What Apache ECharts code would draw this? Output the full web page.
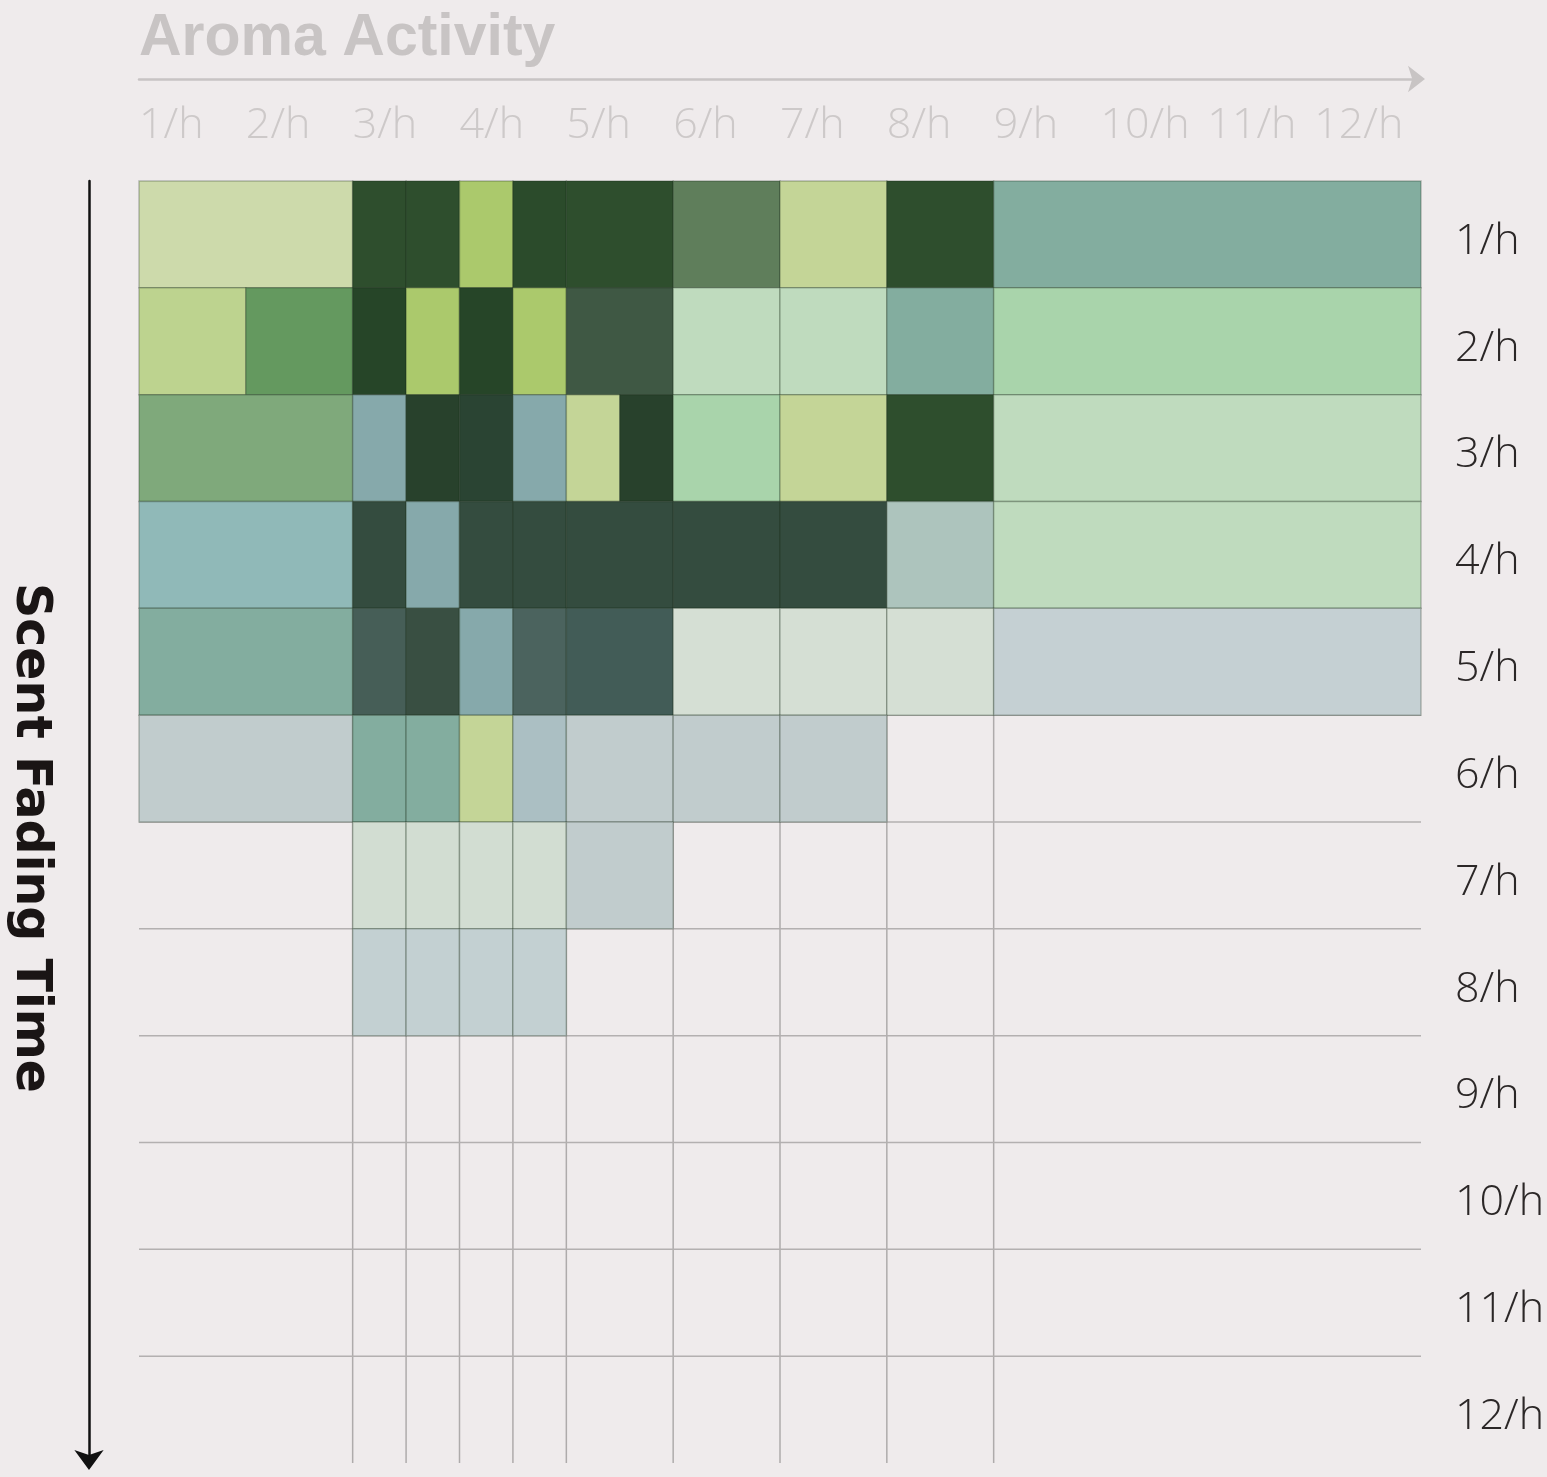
<!DOCTYPE html>
<html>
<head>
<meta charset="utf-8">
<title>Aroma Activity</title>
<script src="https://cdn.jsdelivr.net/npm/echarts@6.0.0/dist/echarts.min.js"></script>
<style>
  html, body { margin: 0; padding: 0; background: #efebec; }
  #chart_container { width: 1547px; height: 1477px; }
</style>
</head>
<body>
<div id="chart_container"></div>
<script>

// tick labels
const activityLabels = ['1/h', '2/h', '3/h', '4/h', '5/h', '6/h', '7/h', '8/h', '9/h', '10/h', '11/h', '12/h'];
const fadingLabels = ['1/h', '2/h', '3/h', '4/h', '5/h', '6/h', '7/h', '8/h', '9/h', '10/h', '11/h', '12/h'];

// shade levels used by the cells (index -> colour)
const shades = [
  '#cddaab', '#2e4e2d', '#abc96c', '#5f7e5b', '#c4d597', '#83ad9f', '#bdd38f', '#64995f',
  '#264528', '#3f5844', '#bfdbbe', '#a9d4ab', '#7fa97b', '#86a9ab', '#2a4433', '#90b9b8',
  '#344c3f', '#adc4bd', '#465e57', '#4b635e', '#425c57', '#d5dfd4', '#c5d0d3', '#c1cccd',
  '#abbfc3', '#d2ddd2', '#c3d0d2', '#2b4b2b', '#28412c', '#394f42'
];

// each row: [activity from, activity to, shade]
const fading1 = [[0, 2, 0], [2, 2.5, 1], [2.5, 3, 1], [3, 3.5, 2], [3.5, 4, 27], [4, 5, 1], [5, 6, 3], [6, 7, 4], [7, 8, 1], [8, 12, 5]];
const fading2 = [[0, 1, 6], [1, 2, 7], [2, 2.5, 8], [2.5, 3, 2], [3, 3.5, 8], [3.5, 4, 2], [4, 5, 9], [5, 6, 10], [6, 7, 10], [7, 8, 5], [8, 12, 11]];
const fading3 = [[0, 2, 12], [2, 2.5, 13], [2.5, 3, 28], [3, 3.5, 14], [3.5, 4, 13], [4, 4.5, 4], [4.5, 5, 28], [5, 6, 11], [6, 7, 4], [7, 8, 1], [8, 12, 10]];
const fading4 = [[0, 2, 15], [2, 2.5, 16], [2.5, 3, 13], [3, 3.5, 16], [3.5, 4, 16], [4, 5, 16], [5, 6, 16], [6, 7, 16], [7, 8, 17], [8, 12, 10]];
const fading5 = [[0, 2, 5], [2, 2.5, 18], [2.5, 3, 29], [3, 3.5, 13], [3.5, 4, 19], [4, 5, 20], [5, 6, 21], [6, 7, 21], [7, 8, 21], [8, 12, 22]];
const fading6 = [[0, 2, 23], [2, 2.5, 5], [2.5, 3, 5], [3, 3.5, 4], [3.5, 4, 24], [4, 5, 23], [5, 6, 23], [6, 7, 23]];
const fading7 = [[2, 2.5, 25], [2.5, 3, 25], [3, 3.5, 25], [3.5, 4, 25], [4, 5, 23]];
const fading8 = [[2, 2.5, 26], [2.5, 3, 26], [3, 3.5, 26], [3.5, 4, 26]];

// guide lines of the empty grid
const splitActivity = [2, 2.5, 3, 3.5, 4, 5, 6, 7, 8];
const splitFading = [1, 2, 3, 4, 5, 6, 7, 8, 9, 10, 11];

window.addEventListener("load", (event) => {
  drawChart();
});

function drawChart() {

  let rows = [fading1, fading2, fading3, fading4, fading5, fading6, fading7, fading8];
  let cells = [];
  rows.forEach((row, i) => {
    row.forEach((c) => cells.push([c[0], c[1], i, c[2]]));
  });

  let chart = echarts.init(document.getElementById("chart_container"), null, {
    renderer: 'canvas'
  });

  const labelFont = "'Open Sans', 'Noto Sans', sans-serif";

  let option = {
    backgroundColor: '#efebec',
    animation: false,
    title: {
      text: 'Aroma Activity',
      left: 139,
      top: 9,
      padding: 0,
      textStyle: {
        fontFamily: "'Liberation Sans', Arial, sans-serif",
        fontSize: 59,
        fontWeight: 'bold',
        color: '#c8c4c4'
      }
    },
    grid: {
      left: 139,
      right: 126,
      top: 181,
      bottom: 14,
      outerBoundsMode: 'none'
    },
    xAxis: [
      {
        // arrow line
        type: 'value',
        position: 'top',
        min: 0,
        max: 12,
        offset: 102,
        axisLine: {
          show: true,
          onZero: false,
          symbol: ['none', 'arrow'],
          symbolSize: [20, 17],
          symbolOffset: [0, 4],
          lineStyle: { color: '#c8c4c4', width: 2.5 }
        },
        axisTick: { show: false },
        axisLabel: { show: false },
        splitLine: { show: false }
      },
      {
        type: 'value',
        position: 'top',
        min: 0,
        max: 12,
        interval: 1,
        axisLine: { show: false, onZero: false },
        axisTick: { show: false },
        splitLine: { show: false },
        axisLabel: {
          align: 'left',
          margin: 34,
          fontFamily: labelFont,
          fontWeight: 300,
          fontSize: 43,
          color: '#cdc9c9',
          formatter: (v) => activityLabels[v] || ''
        }
      }
    ],
    yAxis: [
      {
        type: 'value',
        inverse: true,
        min: 0,
        max: 12,
        position: 'left',
        offset: 50,
        name: 'Scent Fading Time',
        nameLocation: 'middle',
        nameRotate: -90,
        nameGap: 35,
        nameTextStyle: {
          fontFamily: "'DejaVu Sans', sans-serif",
          fontSize: 49,
          fontWeight: 'bold',
          color: '#1a1515',
          padding: [0, 0, 0, 32]
        },
        axisLine: {
          show: true,
          onZero: false,
          symbol: ['arrow', 'none'],
          symbolSize: [22, 20],
          symbolOffset: [-7, 0],
          lineStyle: { color: '#111111', width: 2.5 }
        },
        axisTick: { show: false },
        axisLabel: { show: false },
        splitLine: { show: false }
      },
      {
        type: 'category',
        inverse: true,
        position: 'right',
        data: fadingLabels,
        axisLine: { show: false, onZero: false },
        axisTick: { show: false },
        splitLine: { show: false },
        axisLabel: {
          margin: 34,
          fontFamily: labelFont,
          fontWeight: 300,
          fontSize: 43,
          color: '#2b2727',
          formatter: (v) => '{t|' + v + '}',
          rich: {
            t: {
              fontFamily: labelFont,
              fontWeight: 300,
              fontSize: 43,
              color: '#2b2727',
              padding: [14, 0, 0, 0]
            }
          }
        }
      }
    ],
    series: [
      {
        name: 'activity lines',
        type: 'custom',
        xAxisIndex: 0,
        yAxisIndex: 0,
        silent: true,
        z: 1,
        data: splitActivity.map((x) => [x, 0]),
        renderItem: (params, api) => {
          let a = api.coord([api.value(0), 0]);
          let b = api.coord([api.value(0), 12]);
          return {
            type: 'line',
            shape: { x1: a[0], y1: a[1], x2: b[0], y2: b[1] },
            style: { stroke: '#aeabab', lineWidth: 1.5 }
          };
        }
      },
      {
        name: 'fading lines',
        type: 'custom',
        xAxisIndex: 0,
        yAxisIndex: 0,
        silent: true,
        z: 1,
        data: splitFading.map((y) => [0, y]),
        renderItem: (params, api) => {
          let a = api.coord([0, api.value(1)]);
          let b = api.coord([12, api.value(1)]);
          return {
            type: 'line',
            shape: { x1: a[0], y1: a[1], x2: b[0], y2: b[1] },
            style: { stroke: '#b3b0b0', lineWidth: 1.5 }
          };
        }
      },
      {
        name: 'cells',
        type: 'custom',
        xAxisIndex: 0,
        yAxisIndex: 0,
        z: 2,
        encode: { x: [0, 1], y: 2 },
        data: cells,
        renderItem: (params, api) => {
          let p0 = api.coord([api.value(0), api.value(2)]);
          let p1 = api.coord([api.value(1), api.value(2) + 1]);
          return {
            type: 'rect',
            shape: { x: p0[0], y: p0[1], width: p1[0] - p0[0], height: p1[1] - p0[1] },
            style: {
              fill: shades[api.value(3)],
              stroke: 'rgba(25, 45, 25, 0.28)',
              lineWidth: 1.5
            }
          };
        }
      }
    ]
  };

  chart.setOption(option);

  window.addEventListener('resize', chart.resize);
}
</script>
</body>
</html>
